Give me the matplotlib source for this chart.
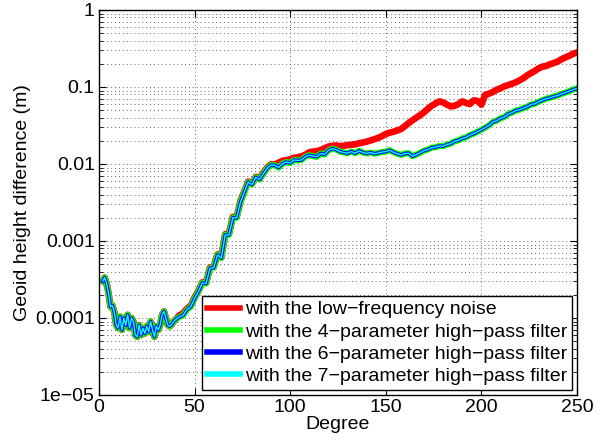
import matplotlib
matplotlib.use("Agg")
import matplotlib.pyplot as plt

plt.rcParams["font.family"] = ["Liberation Sans", "DejaVu Sans"]

# degrees: 1-degree steps at low degrees, then 2-degree steps
deg_lo = list(range(2, 41))
deg_hi = list(range(42, 251, 2))
degree = deg_lo + deg_hi

filt_lo = [3.0e-4, 3.35e-4, 2.8e-4, 2.1e-4, 1.4e-4, 1.45e-4, 1.2e-4, 8.1e-5, 7.4e-5,
           1.04e-4, 7.0e-5, 1.0e-4, 8.0e-5, 1.1e-4, 7.4e-5, 1.0e-4, 9.0e-5, 6.0e-5,
           5.7e-5, 8.1e-5, 6.0e-5, 7.4e-5, 6.3e-5, 7.8e-5, 6.6e-5, 9.0e-5, 7.0e-5,
           5.7e-5, 7.8e-5, 7.0e-5, 8.1e-5, 1.1e-4, 1.22e-4, 1.0e-4, 8.1e-5, 7.8e-5,
           8.2e-5, 9.0e-5, 9.5e-5]
filt_hi = [1.03e-4, 1.08e-4, 1.28e-4, 1.4e-4, 1.8e-4, 2.2e-4, 2.85e-4, 2.8e-4,
           4.4e-4, 4.5e-4, 6.6e-4, 6.0e-4, 1.2e-3, 1.2e-3, 2.0e-3, 2.0e-3, 3.2e-3,
           4.3e-3, 5.8e-3, 5.4e-3, 6.7e-3, 6.3e-3, 7.5e-3, 8.8e-3, 9.7e-3, 9.6e-3,
           9.0e-3, 1.01e-2, 1.06e-2, 1.03e-2, 1.13e-2, 1.11e-2, 1.13e-2, 1.25e-2,
           1.3e-2, 1.27e-2, 1.24e-2, 1.37e-2, 1.33e-2, 1.5e-2, 1.58e-2, 1.54e-2,
           1.45e-2, 1.41e-2, 1.38e-2, 1.45e-2, 1.38e-2, 1.48e-2, 1.41e-2, 1.37e-2,
           1.41e-2, 1.36e-2, 1.39e-2, 1.43e-2, 1.45e-2, 1.51e-2, 1.42e-2, 1.36e-2,
           1.31e-2, 1.37e-2, 1.38e-2, 1.26e-2, 1.33e-2, 1.4e-2, 1.49e-2, 1.54e-2,
           1.63e-2, 1.65e-2, 1.71e-2, 1.7e-2, 1.79e-2, 1.84e-2, 1.97e-2, 2.03e-2,
           2.14e-2, 2.22e-2, 2.37e-2, 2.48e-2, 2.63e-2, 2.78e-2, 2.97e-2, 3.18e-2,
           3.52e-2, 3.65e-2, 3.92e-2, 4.08e-2, 4.45e-2, 4.65e-2, 4.93e-2, 5.08e-2,
           5.32e-2, 5.55e-2, 5.93e-2, 6.05e-2, 6.45e-2, 6.75e-2, 7.05e-2, 7.25e-2,
           7.55e-2, 7.75e-2, 8.15e-2, 8.45e-2, 8.85e-2, 9.25e-2, 9.6e-2]
filtered = filt_lo + filt_hi

red_lo = filt_lo
red_hi = [1.08e-4, 1.15e-4, 1.32e-4, 1.45e-4, 1.85e-4, 2.25e-4, 2.9e-4, 2.85e-4,
          4.5e-4, 4.6e-4, 6.7e-4, 6.2e-4, 1.22e-3, 1.25e-3, 2.05e-3, 2.05e-3, 3.3e-3,
          4.4e-3, 5.9e-3, 5.5e-3, 6.8e-3, 6.4e-3, 7.7e-3, 9.0e-3, 9.9e-3, 9.9e-3,
          1.04e-2, 1.1e-2, 1.12e-2, 1.15e-2, 1.2e-2, 1.22e-2, 1.26e-2, 1.32e-2,
          1.42e-2, 1.45e-2, 1.47e-2, 1.52e-2, 1.6e-2, 1.68e-2, 1.72e-2, 1.74e-2,
          1.7e-2, 1.72e-2, 1.76e-2, 1.78e-2, 1.8e-2, 1.86e-2, 1.9e-2, 1.95e-2,
          2.02e-2, 2.1e-2, 2.18e-2, 2.3e-2, 2.45e-2, 2.55e-2, 2.62e-2, 2.72e-2,
          2.85e-2, 3.1e-2, 3.4e-2, 3.7e-2, 4.0e-2, 4.3e-2, 4.7e-2, 5.2e-2,
          5.7e-2, 6.1e-2, 6.5e-2, 6.3e-2, 5.9e-2, 5.6e-2, 5.7e-2, 6.0e-2,
          6.5e-2, 6.2e-2, 6.0e-2, 6.7e-2, 6.6e-2, 5.9e-2, 7.9e-2, 8.2e-2,
          8.6e-2, 9.2e-2, 9.6e-2, 1.02e-1, 1.06e-1, 1.1e-1, 1.15e-1, 1.22e-1,
          1.3e-1, 1.42e-1, 1.52e-1, 1.62e-1, 1.75e-1, 1.84e-1, 1.88e-1, 1.98e-1,
          2.05e-1, 2.15e-1, 2.3e-1, 2.42e-1, 2.55e-1, 2.7e-1, 2.8e-1]
red = red_lo + red_hi

labels = ["with the low\u2212frequency noise",
          "with the 4\u2212parameter high\u2212pass filter",
          "with the 6\u2212parameter high\u2212pass filter",
          "with the 7\u2212parameter high\u2212pass filter"]

fig = plt.figure(figsize=(6.01, 4.44), dpi=100)
ax = fig.add_axes([0.1647, 0.1104, 0.7953, 0.8671])

ax.semilogy(degree, red, color=(1, 0, 0), lw=4.8, label=labels[0])
ax.semilogy(degree, filtered, color=(0, 1, 0), lw=4.4, label=labels[1])
ax.semilogy(degree, filtered, color=(0, 0, 1), lw=2.5, label=labels[2])
ax.semilogy(degree, filtered, color=(0, 1, 1), lw=1.0, label=labels[3])

ax.set_xlim(0, 250)
ax.set_ylim(1e-5, 1)
ax.set_xticks([0, 50, 100, 150, 200, 250])
ax.set_yticks([1e-5, 1e-4, 1e-3, 1e-2, 1e-1, 1],
              ["1e\u221205", "0.0001", "0.001", "0.01", "0.1", "1"])
ax.tick_params(which="both", direction="in", top=True, right=True, labelsize=14)
ax.tick_params(which="major", length=5, pad=3)
ax.tick_params(which="minor", length=3)
ax.grid(True, which="major", linestyle=(0, (1, 3)), color="0.4", lw=0.7)
ax.grid(True, which="minor", axis="y", linestyle=(0, (1, 3)), color="0.4", lw=0.7)
for s in ax.spines.values():
    s.set_linewidth(1.0)

ax.set_xlabel("Degree", fontsize=14, labelpad=0)
ax.set_ylabel("Geoid height difference (m)", fontsize=14, labelpad=3)

leg = ax.legend(loc="lower right", fontsize=14, fancybox=False, framealpha=1,
                edgecolor="black", borderaxespad=0.25, handlelength=1.7,
                handletextpad=0.25, labelspacing=0.24, borderpad=0.25)
leg.get_frame().set_linewidth(1.0)
for line in leg.get_lines():
    line.set_linewidth(4)

fig.savefig("out.png", dpi=100)
